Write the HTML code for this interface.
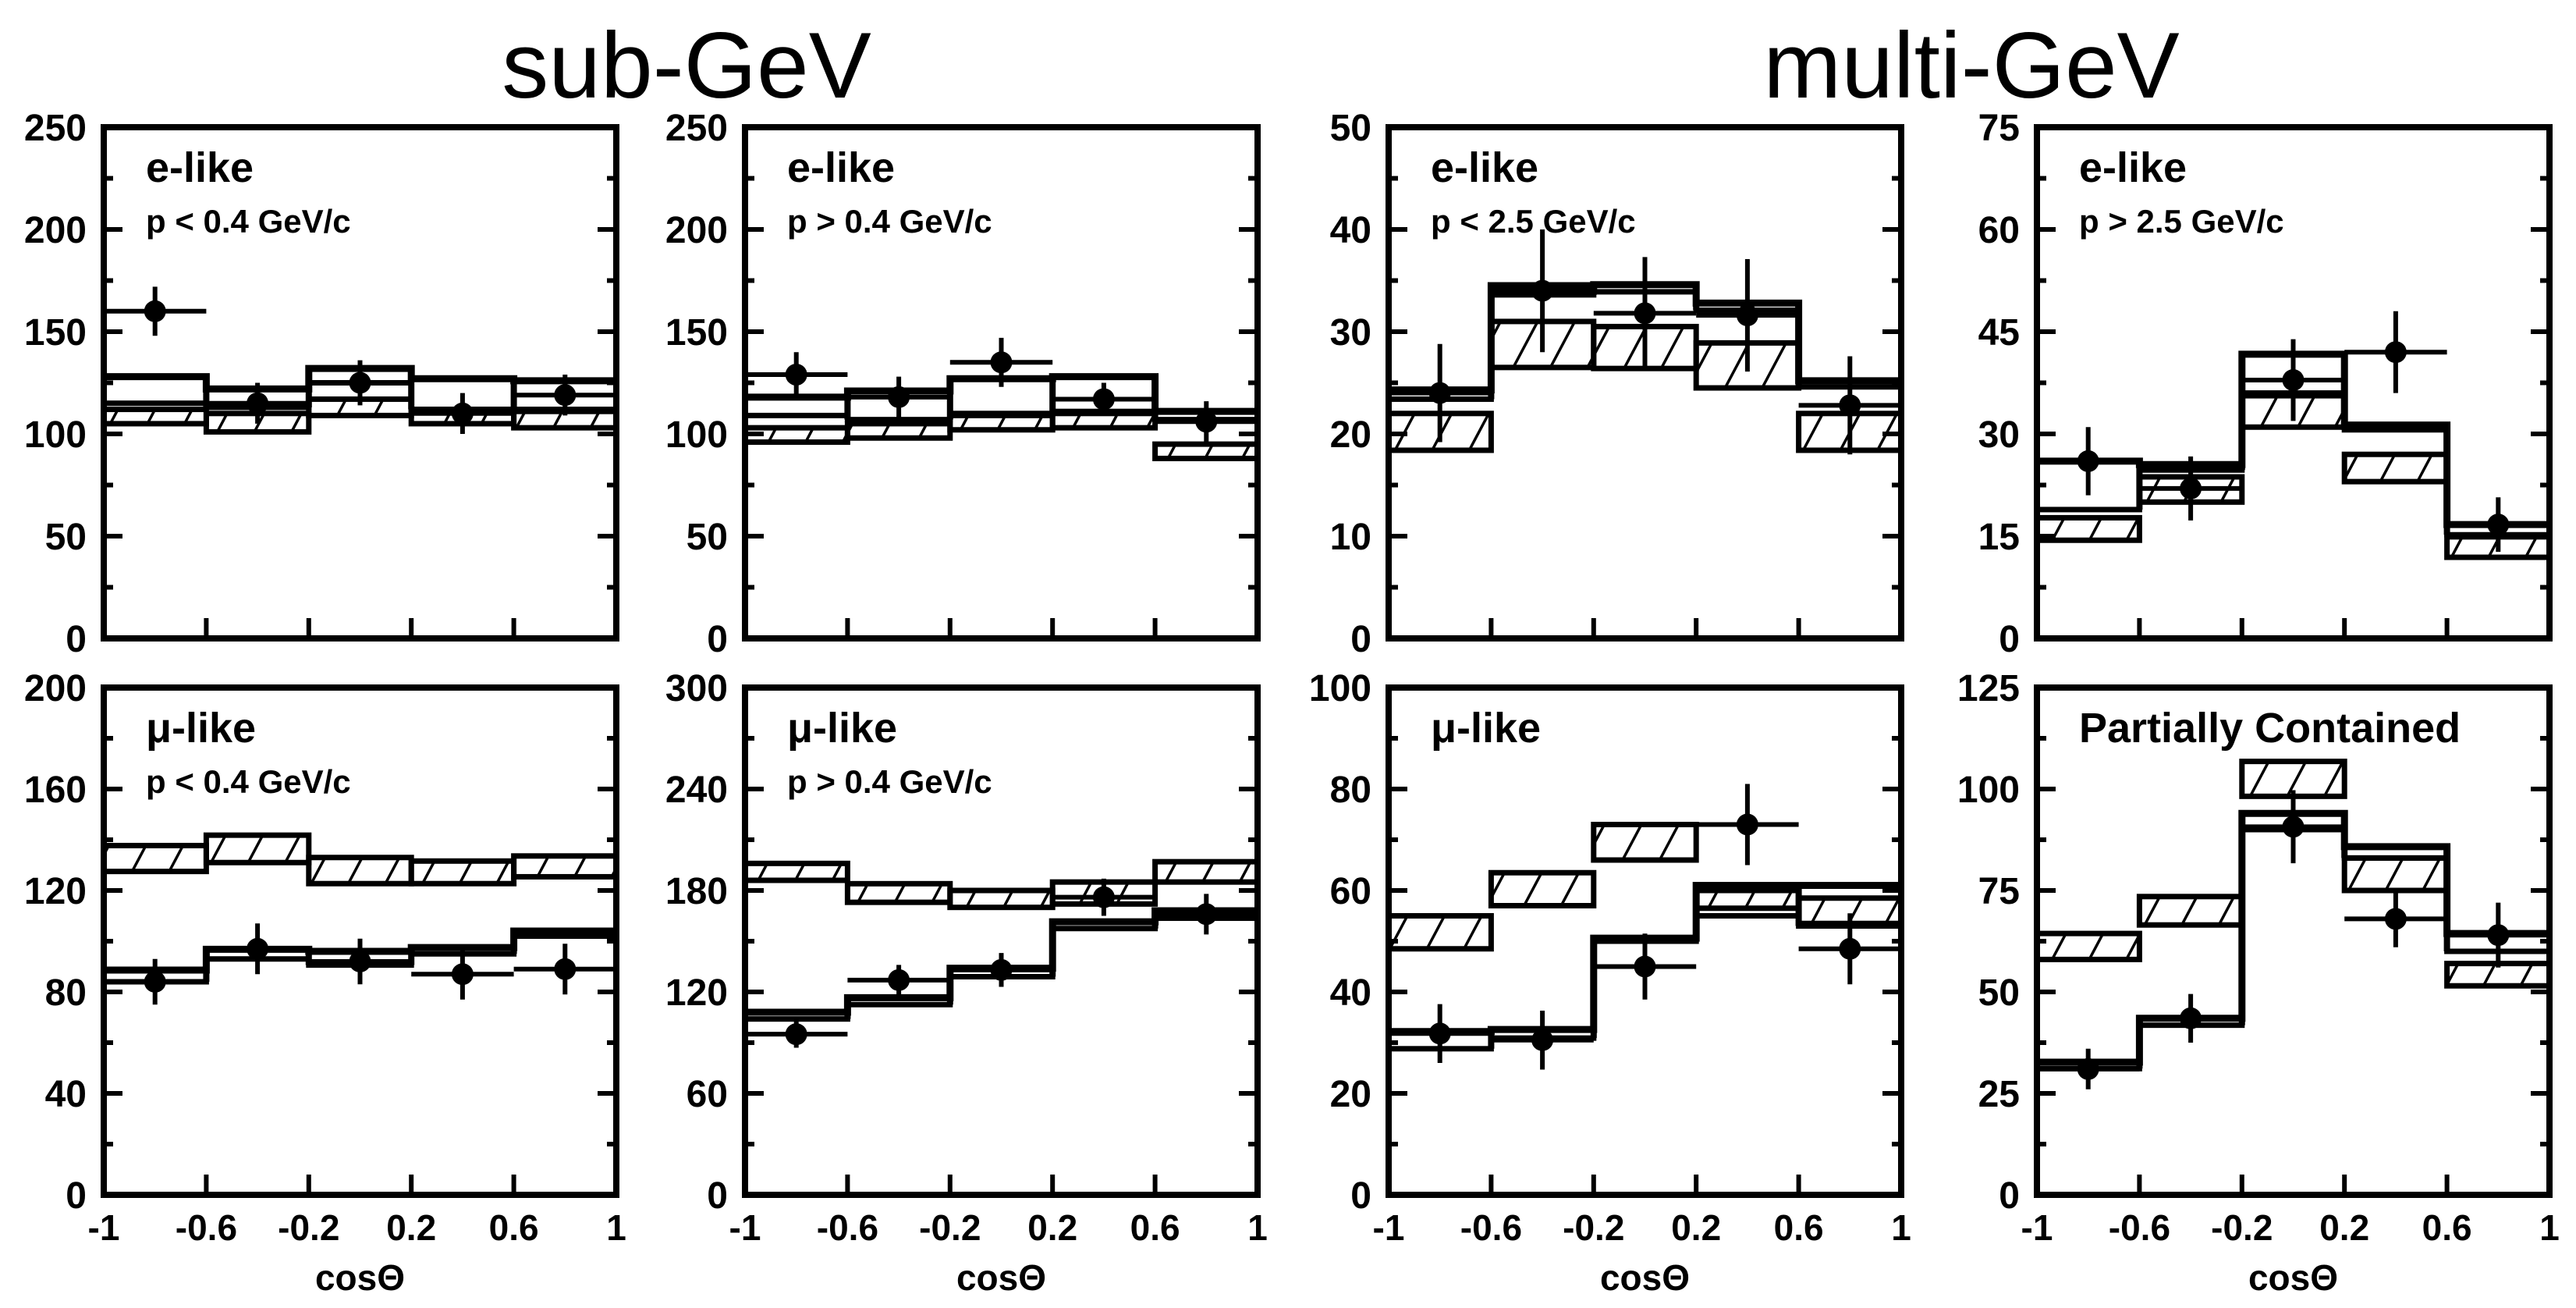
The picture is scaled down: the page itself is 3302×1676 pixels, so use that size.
<!DOCTYPE html>
<html><head><meta charset="utf-8">
<style>
html,body{margin:0;padding:0;background:#fff;}
svg{display:block;}
text{font-family:"Liberation Sans",sans-serif;fill:#000;}
</style></head>
<body>
<svg id="fig" width="3302" height="1676" viewBox="0 0 3302 1676" xmlns="http://www.w3.org/2000/svg">
<defs>
<pattern id="hatch" patternUnits="userSpaceOnUse" width="42" height="42" patternTransform="rotate(28)">
<line x1="0" y1="0" x2="0" y2="42" stroke="#000" stroke-width="7"/>
</pattern>
</defs>
<text x="880" y="125" font-size="120" text-anchor="middle">sub-GeV</text>
<text x="2527" y="125" font-size="120" text-anchor="middle">multi-GeV</text>
<g id="plots"></g>
</svg>
<script>
// x bins (cos theta)
const binEdges = [-1, -0.6, -0.2, 0.2, 0.6, 1];
const xTickLabels = ["-1", "-0.6", "-0.2", "0.2", "0.6", "1"];

// Panel 1: sub-GeV e-like p<0.4
const p1Ticks = [0, 50, 100, 150, 200, 250];
const p1OpenLo = [115, 113, 125, 112, 112];
const p1OpenHi = [128, 122, 132, 127, 126];
const p1HatchLo = [105, 101, 109, 105, 103];
const p1HatchHi = [112, 110, 117, 112, 111];
const p1Data = [160, 115, 125, 110, 119];
const p1Err = [12, 10, 11, 10, 10];

// Panel 2: sub-GeV e-like p>0.4
const p2Ticks = [0, 50, 100, 150, 200, 250];
const p2OpenLo = [109, 107, 110, 111, 107];
const p2OpenHi = [118, 121, 127, 128, 111];
const p2HatchLo = [96, 98, 102, 103, 88];
const p2HatchHi = [103, 105, 109, 110, 95];
const p2Data = [129, 118, 135, 117, 106];
const p2Err = [11, 10, 12, 8, 10];

// Panel 3: multi-GeV e-like p<2.5
const p3Ticks = [0, 10, 20, 30, 40, 50];
const p3OpenLo = [23.4, 33.6, 33.9, 32.1, 24.6];
const p3OpenHi = [24.3, 34.5, 34.6, 32.8, 25.2];
const p3HatchLo = [18.4, 26.5, 26.4, 24.5, 18.4];
const p3HatchHi = [22, 31, 30.5, 28.9, 22];
const p3Data = [24, 34, 31.8, 31.6, 22.8];
const p3Err = [4.8, 6, 5.5, 5.5, 4.8];

// Panel 4: multi-GeV e-like p>2.5
const p4Ticks = [0, 15, 30, 45, 60, 75];
const p4OpenLo = [18.9, 24.7, 36, 30.6, 15.2];
const p4OpenHi = [26, 25.5, 41.7, 31.3, 16.7];
const p4HatchLo = [14.4, 20, 31, 23, 11.9];
const p4HatchHi = [17.7, 23.7, 35.6, 27, 14.9];
const p4Data = [26, 22, 37.9, 42, 16.7];
const p4Err = [5, 4.7, 6, 6, 4];

// Panel 5: sub-GeV mu-like p<0.4
const p5Ticks = [0, 40, 80, 120, 160, 200];
const p5OpenLo = [84, 93, 90.6, 95, 102];
const p5OpenHi = [88.6, 96.8, 96, 97.5, 104];
const p5HatchLo = [127.5, 131, 122.7, 122.7, 125.4];
const p5HatchHi = [137.7, 141.8, 133, 131.6, 133.6];
const p5Data = [84, 97, 92, 87, 89];
const p5Err = [9, 10, 9, 10, 10];

// Panel 6: sub-GeV mu-like p>0.4
const p6Ticks = [0, 60, 120, 180, 240, 300];
const p6OpenLo = [104, 112.5, 129, 157.5, 163.6];
const p6OpenHi = [108, 116.6, 134, 161.5, 168];
const p6HatchLo = [186, 173, 170, 172, 185];
const p6HatchHi = [196, 184, 180, 185, 197];
const p6Data = [95, 127, 133, 176, 166];
const p6Err = [8, 9, 10, 11, 12];

// Panel 7: multi-GeV mu-like
const p7Ticks = [0, 20, 40, 60, 80, 100];
const p7OpenLo = [28.8, 30.9, 50, 55, 53];
const p7OpenHi = [32.2, 32.6, 50.6, 61, 61];
const p7HatchLo = [48.5, 57, 66, 56.5, 53.5];
const p7HatchHi = [55, 63.5, 73, 60, 58.5];
const p7Data = [31.8, 30.5, 45, 73, 48.5];
const p7Err = [5.8, 5.8, 6.5, 8, 7];

// Panel 8: partially contained
const p8Ticks = [0, 25, 50, 75, 100, 125];
const p8OpenLo = [31.1, 41.8, 90, 83, 60];
const p8OpenHi = [32.7, 43.5, 94, 85.8, 64.4];
const p8HatchLo = [58, 66.5, 98.2, 75, 51.5];
const p8HatchHi = [64.4, 73.5, 106.8, 83, 57];
const p8Data = [31, 43.5, 90.7, 68, 64];
const p8Err = [5, 6, 9, 7, 8];

const NS = "http://www.w3.org/2000/svg";
const root = document.getElementById("plots");

function mk(tag, attrs, parent) {
  const e = document.createElementNS(NS, tag);
  for (const k in attrs) e.setAttribute(k, attrs[k]);
  (parent || root).appendChild(e);
  return e;
}

const colX = [133, 955, 1780, 2611];
const rowY = [[163, 818], [881, 1531]];
const PW = 657;

function drawPanel(id, col, row, ticks, oLo, oHi, hLo, hHi, dat, err, l1, l2) {
  const g = mk("g", {});
  
  
  const x0 = colX[col], x1 = x0 + PW;
  const yTop = rowY[row][0], yBot = rowY[row][1];
  const ymax = ticks[ticks.length - 1];
  const sx = v => x0 + (v + 1) / 2 * PW;
  const sy = v => yBot - v / ymax * (yBot - yTop);

  // hatched boxes
  for (let i = 0; i < 5; i++) {
    const r = mk("rect", {x: sx(binEdges[i]), y: sy(hHi[i]), width: sx(binEdges[i+1]) - sx(binEdges[i]), height: sy(hLo[i]) - sy(hHi[i]), fill: "url(#hatch)", stroke: "#000", "stroke-width": 7}, g);
    
    
  }
  // no-oscillation MC boxes
  for (let i = 0; i < 5; i++) {
    const r = mk("rect", {x: sx(binEdges[i]), y: sy(oHi[i]), width: sx(binEdges[i+1]) - sx(binEdges[i]), height: Math.max(1, sy(oLo[i]) - sy(oHi[i])), fill: "none", stroke: "#000", "stroke-width": 7}, g);
    
    
  }
  // step connectors of no-osc histogram
  let d = "";
  for (let i = 0; i < 5; i++) {
    d += (i === 0 ? "M" : "L") + sx(binEdges[i]) + " " + sy(oHi[i]) + " L" + sx(binEdges[i+1]) + " " + sy(oHi[i]) + " ";
  }
  const st = mk("path", {d: d, fill: "none", stroke: "#000", "stroke-width": 9}, g);
  
  
  for (let i = 1; i < 5; i++) {
    const lo = Math.min(oLo[i-1], oLo[i]), hi = Math.max(oHi[i-1], oHi[i]);
    const v = mk("line", {x1: sx(binEdges[i]), x2: sx(binEdges[i]), y1: sy(hi), y2: sy(lo), stroke: "#000", "stroke-width": 8}, g);
    
    
  }
  // data points
  for (let i = 0; i < 5; i++) {
    const cx = sx((binEdges[i] + binEdges[i+1]) / 2), cy = sy(dat[i]);
    const h = mk("line", {x1: sx(binEdges[i]), x2: sx(binEdges[i+1]), y1: cy, y2: cy, stroke: "#000", "stroke-width": 6}, g);
    
    
    const v = mk("line", {x1: cx, x2: cx, y1: sy(dat[i] + err[i]), y2: sy(dat[i] - err[i]), stroke: "#000", "stroke-width": 6}, g);
    
    
    const c = mk("circle", {cx: cx, cy: cy, r: 14, fill: "#000"}, g);
    
    
  }
  // frame
  const f = mk("rect", {x: x0, y: yTop, width: PW, height: yBot - yTop, fill: "none", stroke: "#000", "stroke-width": 8}, g);
  
  
  // y ticks
  for (let i = 0; i < ticks.length; i++) {
    const y = sy(ticks[i]);
    if (i > 0 && i < ticks.length - 1) {
      mk("line", {x1: x0, x2: x0 + 24, y1: y, y2: y, stroke: "#000", "stroke-width": 6}, g);
      mk("line", {x1: x1, x2: x1 - 24, y1: y, y2: y, stroke: "#000", "stroke-width": 6}, g);
    }
    if (i > 0) {
      const ym = sy((ticks[i] + ticks[i-1]) / 2);
      mk("line", {x1: x0, x2: x0 + 12, y1: ym, y2: ym, stroke: "#000", "stroke-width": 6}, g);
      mk("line", {x1: x1, x2: x1 - 12, y1: ym, y2: ym, stroke: "#000", "stroke-width": 6}, g);
    }
    const t = mk("text", {x: x0 - 22, y: y + 17, "font-size": 48, "font-weight": "bold", "text-anchor": "end"}, g);
    
    
    t.textContent = ticks[i];
  }
  // x ticks
  for (let i = 0; i < binEdges.length; i++) {
    const x = sx(binEdges[i]);
    if (i > 0 && i < binEdges.length - 1) {
      mk("line", {x1: x, x2: x, y1: yBot, y2: yBot - 26, stroke: "#000", "stroke-width": 6}, g);
    }
    if (row === 1) {
      const t = mk("text", {x: x, y: yBot + 58, "font-size": 46, "font-weight": "bold", "text-anchor": "middle"}, g);
      
      
      t.textContent = xTickLabels[i];
    }
  }
  if (row === 1) {
    const t = mk("text", {x: (x0 + x1) / 2, y: yBot + 122, "font-size": 46, "font-weight": "bold", "text-anchor": "middle"}, g);
    
    
    t.textContent = "cosΘ";
  }
  const lt = mk("text", {x: x0 + 54, y: yTop + 70, "font-size": 54, "font-weight": "bold"}, g);
  
  
  lt.textContent = l1;
  if (l2) {
    const l2t = mk("text", {x: x0 + 54, y: yTop + 135, "font-size": 42, "font-weight": "bold"}, g);
    
    
    l2t.textContent = l2;
  }
}

drawPanel("panel-subgev-e-low", 0, 0, p1Ticks, p1OpenLo, p1OpenHi, p1HatchLo, p1HatchHi, p1Data, p1Err, "e-like", "p < 0.4 GeV/c");
drawPanel("panel-subgev-e-high", 1, 0, p2Ticks, p2OpenLo, p2OpenHi, p2HatchLo, p2HatchHi, p2Data, p2Err, "e-like", "p > 0.4 GeV/c");
drawPanel("panel-multigev-e-low", 2, 0, p3Ticks, p3OpenLo, p3OpenHi, p3HatchLo, p3HatchHi, p3Data, p3Err, "e-like", "p < 2.5 GeV/c");
drawPanel("panel-multigev-e-high", 3, 0, p4Ticks, p4OpenLo, p4OpenHi, p4HatchLo, p4HatchHi, p4Data, p4Err, "e-like", "p > 2.5 GeV/c");
drawPanel("panel-subgev-mu-low", 0, 1, p5Ticks, p5OpenLo, p5OpenHi, p5HatchLo, p5HatchHi, p5Data, p5Err, "μ-like", "p < 0.4 GeV/c");
drawPanel("panel-subgev-mu-high", 1, 1, p6Ticks, p6OpenLo, p6OpenHi, p6HatchLo, p6HatchHi, p6Data, p6Err, "μ-like", "p > 0.4 GeV/c");
drawPanel("panel-multigev-mu", 2, 1, p7Ticks, p7OpenLo, p7OpenHi, p7HatchLo, p7HatchHi, p7Data, p7Err, "μ-like", "");
drawPanel("panel-partially-contained", 3, 1, p8Ticks, p8OpenLo, p8OpenHi, p8HatchLo, p8HatchHi, p8Data, p8Err, "Partially Contained", "");
</script>
</body></html>
